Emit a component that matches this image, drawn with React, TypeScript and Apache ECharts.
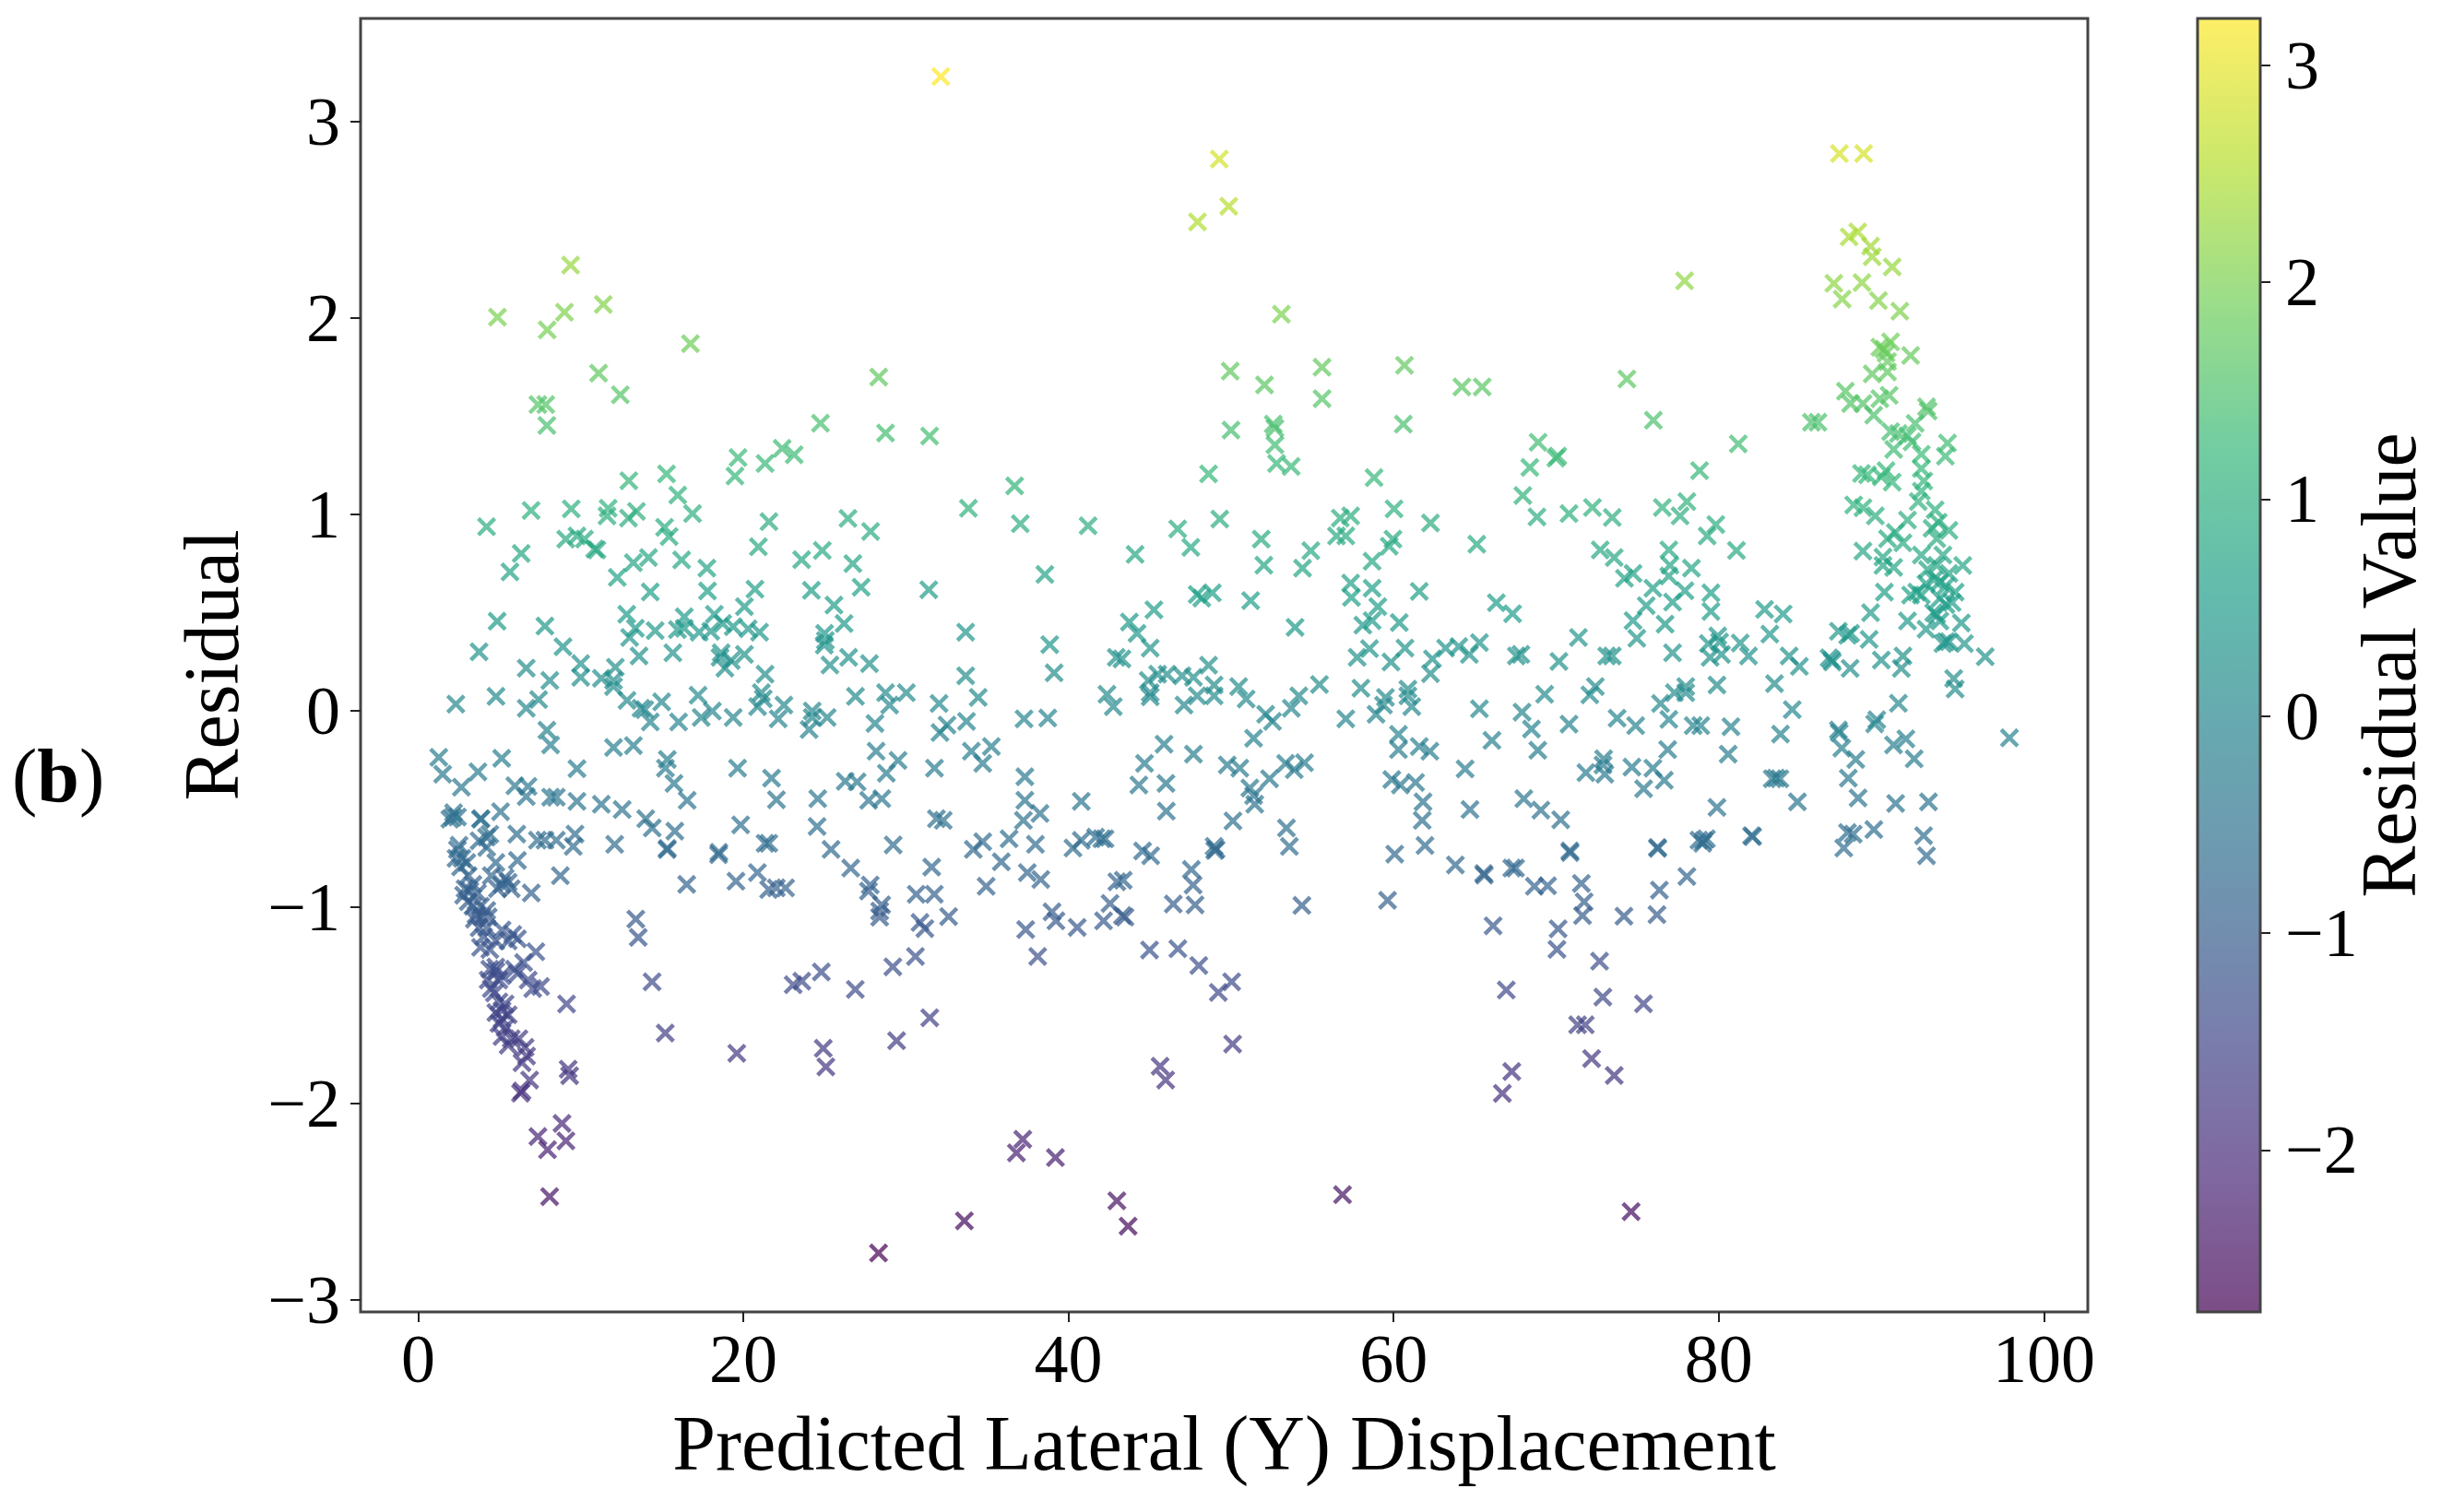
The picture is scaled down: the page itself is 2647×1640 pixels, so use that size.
import React, { useEffect, useRef } from "react";
import * as echarts from "echarts";

const xTicks = [0, 20, 40, 60, 80, 100];
const yTicks = [-3, -2, -1, 0, 1, 2, 3];
const colorTicks = [-2, -1, 0, 1, 2, 3];
const xTitle = "Predicted Lateral (Y) Displacement";
const yTitle = "Residual";
const colorTitle = "Residual Value";
const colorMin = -2.76;
const colorMax = 3.22;
const viridis = ["#440154", "#482878", "#3e4989", "#31688e", "#26828e", "#1f9e89", "#35b779", "#6ece58", "#b5de2b", "#fde725"];

const upperLeft: number[][] = [[4.88,2.005],[7.94,1.94],[9.0,2.03],[9.38,2.27],[11.39,2.07],[11.1,1.72],[12.44,1.61],[16.75,1.87],[7.37,1.56],[7.85,1.56],[28.33,1.7],[32.15,3.23],
[7.92,1.454],[24.75,1.465],[28.75,1.415],[31.46,1.4],[19.68,1.29],[19.49,1.196],[21.34,1.26],[22.39,1.337],[23.13,1.305],[12.96,1.172],[15.28,1.207],[15.97,1.099],[16.88,1.005],[6.95,1.021],[9.42,1.029],[11.69,1.032],[11.62,0.993],[12.94,0.982],[13.43,1.016],[4.21,0.938],[15.16,0.935],[15.44,0.888],[21.58,0.964],[26.44,0.98],[27.83,0.914],[9.08,0.875],[9.77,0.891],[10.23,0.875],[10.86,0.825],[11.0,0.82],[6.34,0.802],[5.65,0.708],[20.93,0.836],[24.86,0.817],[23.59,0.77],[14.17,0.781],[13.24,0.755],[16.21,0.769],[17.76,0.727],[12.25,0.68],[26.74,0.75],[14.28,0.606],[17.8,0.611],[20.72,0.62],[24.19,0.614],[27.25,0.63],[31.41,0.617],[20.07,0.531],[25.58,0.539]];

const midLeft: number[][] = [[4.86,0.457],[7.8,0.432],[12.83,0.492],[16.37,0.479],[18.22,0.492],[13.36,0.421],[14.58,0.409],[15.95,0.414],[16.37,0.421],[17.29,0.401],[18.0,0.406],[18.73,0.445],[19.38,0.429],[20.3,0.418],[21.0,0.401],[26.2,0.445],[25.0,0.395],[25.05,0.359],[13.01,0.374],[24.98,0.335],[8.91,0.327],[3.75,0.301],[13.59,0.28],[15.67,0.296],[18.64,0.296],[18.57,0.273],[20.07,0.288],[19.26,0.257],[18.87,0.218],[26.48,0.273],[25.33,0.234],[27.76,0.241],[10.0,0.241],[6.65,0.218],[12.13,0.223],[8.1,0.155],[10.0,0.171],[11.27,0.166],[12.02,0.155],[12.02,0.124],[21.34,0.187],[21.11,0.093],[21.23,0.062],[2.32,0.035],[4.79,0.074],[7.41,0.058],[6.65,0.014],[12.85,0.054],[13.71,0.014],[13.94,0.007],[14.98,0.046],[14.28,-0.056],[16.02,-0.056],[17.22,0.08],[17.41,-0.033],[18.1,-0.001],[19.38,-0.033],[20.88,0.022],[22.5,0.03],[22.15,-0.04],[24.24,0.0],[24.24,-0.033],[25.16,-0.033],[24.05,-0.095],[26.9,0.074],[28.75,0.093],[29.0,0.03],[30.03,0.093],[28.1,-0.064],[32.04,0.038],[32.1,-0.11],[7.92,-0.098],[8.15,-0.173],[12.02,-0.186],[13.24,-0.176],[1.27,-0.236],[1.51,-0.322],[5.14,-0.241],[3.68,-0.31],[2.66,-0.388],[9.77,-0.294],[15.33,-0.247],[15.21,-0.291],[15.74,-0.369],[16.55,-0.455],[19.65,-0.291],[21.74,-0.342],[22.04,-0.452],[28.17,-0.205],[29.52,-0.252],[28.8,-0.317],[31.76,-0.291],[26.27,-0.358],[27.0,-0.361],[24.58,-0.447],[27.71,-0.455],[28.52,-0.447],[5.95,-0.381],[6.76,-0.384],[6.65,-0.436],[8.15,-0.439],[8.5,-0.439],[9.77,-0.46],[11.27,-0.475],[12.55,-0.502],[14.0,-0.549],[14.4,-0.596],[15.79,-0.612],[2.18,-0.518],[3.87,-0.549],[5.07,-0.513],[2.13,-0.541],[6.07,-0.627],[4.21,-0.643],[7.34,-0.658],[7.8,-0.658],[8.5,-0.658],[9.65,-0.627],[9.54,-0.69],[12.09,-0.679],[19.84,-0.58],[24.54,-0.588],[31.88,-0.549],[21.34,-0.674],[21.57,-0.674],[25.4,-0.705],[29.22,-0.682],[15.33,-0.7],[18.5,-0.72]];

const denseCluster: number[][] = [[2.42,-0.54],[1.95,-0.551],[3.84,-0.551],[4.41,-0.628],[3.75,-0.661],[2.52,-0.684],[4.22,-0.695],[2.42,-0.706],[2.7,-0.75],[2.99,-0.772],[2.33,-0.75],[2.61,-0.794],[3.08,-0.839],[3.37,-0.883],[2.89,-0.905],[3.18,-0.916],[3.65,-0.927],[2.8,-0.938],[3.08,-0.971],[3.37,-0.994],[3.84,-0.994],[4.22,-1.016],[3.56,-1.038],[3.93,-1.049],[4.31,-1.049],[3.46,-1.06],[3.75,-1.104],[4.22,-1.104],[4.03,-1.149],[4.78,-1.171],[3.84,-1.204],[4.41,-1.215],[5.16,-1.115],[5.82,-1.138],[5.54,-1.171],[6.11,-1.16],[4.78,-0.772],[5.35,-0.85],[6.11,-0.761],[5.73,-0.905],[6.96,-0.927],[4.88,-0.905],[5.16,-0.883],[5.54,-0.872],[4.5,-0.839],[7.24,-1.226],[6.49,-1.281],[6.11,-1.337],[6.77,-1.37],[7.53,-1.403],[7.05,-1.414],[4.41,-1.315],[4.78,-1.326],[4.31,-1.37],[4.97,-1.37],[4.5,-1.414],[4.78,-1.304],[5.16,-1.348],[4.69,-1.436],[5.92,-1.315],[9.13,-1.492],[4.97,-1.481],[5.35,-1.492],[5.16,-1.525],[4.78,-1.536],[5.54,-1.547],[5.16,-1.569],[4.97,-1.591],[5.35,-1.614],[5.16,-1.658],[5.73,-1.669],[6.2,-1.669],[5.54,-1.702],[6.58,-1.713],[6.67,-1.757],[6.39,-1.791],[9.23,-1.824],[9.32,-1.857],[6.86,-1.879],[6.39,-1.935],[6.3,-1.946],[8.85,-2.1],[7.37,-2.167],[9.09,-2.189],[7.96,-2.234],[8.09,-2.473],[13.39,-1.06],[13.54,-1.153],[8.75,-0.839]];

const lowerLeft: number[][] = [[15.31,-0.706],[18.48,-0.732],[16.52,-0.883],[19.55,-0.867],[20.87,-0.823],[21.56,-0.909],[22.03,-0.901],[22.6,-0.901],[26.61,-0.8],[27.81,-0.886],[27.7,-0.917],[28.51,-0.987],[28.39,-1.019],[28.39,-1.05],[31.59,-0.795],[30.64,-0.933],[31.75,-0.933],[35.87,-0.768],[34.94,-0.893],[37.47,-0.823],[38.3,-0.858],[42.05,-0.651],[45.06,-0.737],[47.56,-0.807],[47.67,-0.886],[42.98,-0.87],[43.37,-0.862],[42.56,-0.98],[43.48,-1.05],[43.32,-1.042],[42.16,-1.069],[46.45,-0.983],[47.79,-0.987],[38.99,-1.023],[39.23,-1.069],[40.54,-1.102],[37.37,-1.113],[32.63,-1.047],[30.87,-1.077],[31.17,-1.108],[38.11,-1.25],[30.59,-1.25],[29.2,-1.303],[44.99,-1.217],[46.73,-1.211],[48.02,-1.296],[49.22,-1.433],[50.04,-1.379],[24.8,-1.329],[23.6,-1.376],[23.07,-1.394],[26.89,-1.418],[14.39,-1.379],[31.47,-1.562],[29.43,-1.679],[15.2,-1.64],[19.6,-1.743],[24.92,-1.718],[25.08,-1.812],[45.64,-1.809],[45.98,-1.879],[50.1,-1.696],[37.19,-2.181],[36.8,-2.25],[39.2,-2.274],[42.98,-2.494],[43.67,-2.623],[33.6,-2.596],[28.32,-2.76]];

const centerBand: number[][] = [[49.28,2.81],[47.94,2.49],[49.86,2.57],[53.1,2.02],[49.95,1.73],[52.06,1.66],[55.6,1.75],[55.6,1.59],[60.67,1.76],[64.2,1.65],[65.45,1.65],[60.6,1.46],[52.6,1.46],[52.7,1.44],[50.0,1.43],[52.7,1.355],[52.8,1.26],[53.7,1.245],
[36.69,1.146],[33.85,1.032],[37.04,0.953],[41.21,0.943],[48.62,1.207],[49.31,0.977],[58.8,1.188],[60.03,1.029],[62.27,0.957],[56.72,0.982],[57.36,0.993],[56.49,0.891],[57.06,0.891],[59.96,0.875],[59.73,0.839],[58.68,0.762],[65.12,0.849],[46.72,0.927],[47.53,0.833],[44.1,0.797],[51.86,0.875],[52.02,0.742],[54.91,0.816],[54.4,0.727],[38.55,0.695],[57.36,0.651],[58.68,0.625],[57.41,0.578],[61.58,0.609],[59.03,0.531],[47.92,0.593],[48.2,0.575],[48.85,0.601],[51.21,0.562],[66.32,0.551],[67.32,0.495],[45.26,0.515],[43.75,0.453],[44.22,0.395],[45.03,0.32],[53.94,0.426],[58.11,0.437],[58.68,0.46],[60.35,0.45],[33.68,0.401],[38.85,0.338],[39.12,0.194],[33.68,0.179],[34.45,0.069],[42.94,0.273],[43.29,0.265],[57.76,0.273],[58.52,0.317],[60.7,0.32],[59.84,0.249],[62.39,0.265],[63.2,0.32],[64.01,0.328],[65.28,0.348],[64.66,0.288],[62.27,0.19],[48.62,0.233],[45.49,0.187],[46.07,0.187],[46.99,0.179],[47.69,0.171],[44.91,0.155],[45.03,0.093],[45.03,0.072],[48.96,0.132],[48.96,0.077],[47.92,0.077],[47.11,0.03],[50.47,0.124],[50.93,0.061],[42.37,0.085],[42.76,0.022],[54.17,0.077],[53.71,0.014],[55.44,0.135],[57.99,0.116],[59.5,0.069],[60.88,0.111],[60.88,0.077],[61.12,0.022],[59.38,0.03],[58.92,-0.017],[52.13,-0.017],[52.55,-0.053],[57.06,-0.04],[65.28,0.011],[51.39,-0.139],[33.73,-0.053],[32.53,-0.072],[37.27,-0.04],[38.73,-0.036],[45.88,-0.169],[47.69,-0.22],[44.68,-0.267],[35.26,-0.181],[34.03,-0.205],[34.73,-0.267],[49.77,-0.275],[50.54,-0.291],[37.32,-0.335],[44.33,-0.377],[46.0,-0.369],[51.16,-0.392],[51.39,-0.431],[52.37,-0.345],[53.36,-0.267],[54.52,-0.264],[53.89,-0.299],[60.3,-0.119],[60.3,-0.197],[61.58,-0.181],[62.23,-0.205],[66.05,-0.15],[64.4,-0.295],[59.89,-0.349],[60.42,-0.377],[61.35,-0.364],[61.81,-0.463],[61.76,-0.557],[64.7,-0.502],[37.32,-0.455],[38.25,-0.522],[37.23,-0.557],[40.79,-0.46],[46.02,-0.51],[51.46,-0.475],[50.12,-0.56],[53.41,-0.596],[53.59,-0.69],[61.93,-0.685],[32.3,-0.557],[34.73,-0.666],[34.15,-0.705],[36.35,-0.651],[37.97,-0.679],[40.28,-0.698],[40.79,-0.659],[41.67,-0.643],[42.25,-0.651],[44.56,-0.713],[48.96,-0.69],[49.08,-0.705],[60.07,-0.729],[49.0,-0.71]];

const lowerRight: number[][] = [[63.8,-0.784],[65.54,-0.828],[65.58,-0.836],[67.27,-0.8],[67.5,-0.8],[68.66,-0.893],[69.47,-0.89],[71.55,-0.878],[71.72,-0.972],[71.62,-1.042],[78.04,-0.843],[76.35,-0.912],[76.2,-1.037],[74.17,-1.045],[54.36,-0.99],[59.63,-0.964],[66.12,-1.094],[70.12,-1.109],[70.05,-1.214],[72.67,-1.274],[66.93,-1.421],[72.87,-1.457],[75.37,-1.491],[71.32,-1.598],[71.79,-1.598],[72.18,-1.77],[73.57,-1.856],[67.27,-1.836],[66.69,-1.947],[56.86,-2.463],[74.61,-2.549]];

const midRight: number[][] = [[74.35,1.69],[75.98,1.48],[77.9,2.19],[81.2,1.36],[85.7,1.47],[86.1,1.47],
[68.89,1.368],[70.1,1.298],[69.98,1.287],[68.38,1.24],[67.95,1.097],[78.82,1.224],[68.82,0.988],[70.79,1.005],[72.23,1.036],[73.45,0.985],[76.53,1.036],[78.04,1.066],[77.62,0.993],[79.82,0.949],[79.29,0.891],[81.09,0.817],[72.71,0.82],[73.57,0.781],[76.93,0.82],[77.0,0.742],[78.32,0.727],[74.73,0.7],[74.2,0.675],[76.93,0.687],[75.95,0.625],[77.92,0.612],[75.54,0.536],[77.16,0.554],[79.52,0.601],[79.52,0.507],[74.73,0.46],[76.7,0.442],[74.96,0.37],[71.37,0.374],[82.82,0.517],[83.96,0.494],[83.14,0.391],[84.33,0.28],[84.96,0.227],[83.43,0.139],[84.52,0.007],[79.94,0.382],[80.05,0.351],[79.36,0.343],[81.32,0.346],[81.83,0.28],[79.47,0.273],[80.17,0.288],[77.16,0.296],[67.83,0.288],[67.55,0.28],[70.17,0.252],[73.11,0.28],[73.45,0.28],[72.41,0.124],[72.07,0.082],[69.29,0.085],[77.97,0.124],[77.97,0.093],[77.27,0.093],[76.42,0.038],[79.89,0.132],[86.99,0.249],[86.79,0.27],[67.9,-0.006],[68.48,-0.092],[70.79,-0.067],[73.75,-0.037],[74.89,-0.075],[76.93,-0.043],[78.43,-0.075],[78.89,-0.075],[80.75,-0.08],[68.87,-0.2],[76.86,-0.197],[80.58,-0.22],[83.8,-0.118],[72.92,-0.244],[72.88,-0.275],[71.83,-0.314],[72.99,-0.322],[74.66,-0.286],[75.95,-0.291],[76.65,-0.353],[75.38,-0.396],[83.52,-0.342],[83.29,-0.345],[83.76,-0.345],[84.84,-0.463],[68.01,-0.447],[69.06,-0.505],[70.28,-0.554],[79.89,-0.491],[78.78,-0.658],[79.24,-0.651],[79.01,-0.674],[82.02,-0.635],[76.23,-0.695],[70.84,-0.713],[70.86,-0.721],[76.25,-0.7],[79.08,-0.66],[82.09,-0.64]];

const rightSpike: number[][] = [[87.42,2.838],[88.91,2.838],[88.02,2.414],[88.55,2.439],[89.34,2.366],[89.44,2.313],[90.67,2.261],[87.08,2.177],[88.81,2.181],[87.59,2.097],[89.82,2.089],[91.14,2.035],[90.57,1.879],[89.91,1.852],[90.16,1.842],[90.29,1.821],[90.38,1.779],[91.8,1.81],[89.44,1.716],[90.38,1.726],[87.79,1.628],[90.48,1.607],[89.91,1.59],[88.11,1.565],[88.87,1.565],[89.53,1.506],[92.78,1.548],[92.88,1.527],[92.08,1.464],[90.57,1.422],[91.05,1.412],[91.61,1.401],[90.76,1.332],[91.89,1.37],[92.46,1.307],[94.07,1.364],[93.94,1.297],[92.46,1.234],[88.78,1.209],[89.15,1.202],[90.29,1.223],[90.0,1.192],[90.67,1.165],[92.61,1.171],[92.46,1.119],[88.3,1.049],[88.87,1.035],[89.63,0.993],[92.27,1.066],[93.31,1.024],[91.61,0.972],[93.5,0.961],[94.16,0.919],[93.12,0.93],[90.86,0.909],[90.38,0.877],[91.33,0.856],[93.41,0.877],[88.87,0.814],[90.1,0.783],[90.76,0.731],[90.1,0.741],[92.46,0.794],[93.79,0.794],[95.01,0.741],[93.41,0.741],[92.84,0.72],[94.16,0.7],[93.22,0.668],[93.6,0.657],[93.97,0.636],[94.54,0.605],[92.75,0.647],[90.19,0.605],[91.8,0.59],[92.18,0.605],[92.46,0.59],[93.6,0.573],[94.35,0.552],[93.97,0.542],[93.22,0.5],[93.41,0.49],[89.34,0.5],[94.92,0.448],[91.61,0.458],[92.75,0.416],[93.6,0.458],[87.36,0.406],[87.93,0.385],[88.11,0.395],[89.25,0.364],[93.97,0.353],[93.79,0.343],[94.16,0.353],[95.11,0.343],[96.39,0.276],[86.94,0.259],[88.08,0.217],[90.0,0.259],[91.33,0.28],[91.23,0.217],[94.45,0.165],[94.54,0.112],[91.05,0.039],[89.72,-0.045],[89.59,-0.066],[87.36,-0.097],[87.41,-0.111],[87.57,-0.189],[88.43,-0.247],[91.51,-0.142],[90.75,-0.173],[92.02,-0.244],[97.88,-0.137],[87.97,-0.342],[88.57,-0.443],[90.88,-0.471],[92.9,-0.463],[87.92,-0.619],[88.27,-0.627],[89.54,-0.604],[92.6,-0.635],[87.69,-0.698],[92.78,-0.737]];

const allPoints = [...upperLeft, ...midLeft, ...denseCluster, ...lowerLeft, ...centerBand, ...lowerRight, ...midRight, ...rightSpike];

const crossMark = "path://M3,0 L10,7 L17,0 L20,3 L13,10 L20,17 L17,20 L10,13 L3,20 L0,17 L7,10 L0,3 Z";
const serif = "'Liberation Serif', serif";
const minusLabel = (v: number) => String(v).replace("-", "\u2212");

function withAlpha(hex: string, a: number) {
  const n = parseInt(hex.slice(1), 16);
  return `rgba(${(n >> 16) & 255},${(n >> 8) & 255},${n & 255},${a})`;
}

export default function App() {
  const ref = useRef<HTMLDivElement>(null);
  useEffect(() => {
    const chart = echarts.init(ref.current!, null, { renderer: "svg" });
    const stops = viridis.map((c, i) => ({ offset: i / (viridis.length - 1), color: withAlpha(c, 0.7) }));
    const tickStyle = { show: true, length: 11, inside: false, lineStyle: { color: "#222", width: 2 } };
    const labelStyle = { show: true, color: "#000", fontFamily: serif, fontSize: 74, formatter: minusLabel };
    const hiddenLine = { show: false, onZero: false };
    chart.setOption({
      animation: false,
      backgroundColor: "#fff",
      grid: [
        { left: 391, top: 20, width: 1873, height: 1403, show: true, borderColor: "#444", borderWidth: 3, backgroundColor: "transparent" },
        { left: 2383, top: 20, width: 68, height: 1403, show: false },
      ],
      xAxis: [
        {
          type: "value", gridIndex: 0, min: -3.54, max: 102.7, scale: true,
          axisLine: hiddenLine, splitLine: { show: false },
          axisTick: { ...tickStyle, customValues: xTicks },
          axisLabel: { ...labelStyle, margin: 14, customValues: xTicks },
          name: xTitle, nameLocation: "middle", nameGap: 100,
          nameTextStyle: { color: "#000", fontFamily: serif, fontSize: 84 },
        },
        { type: "value", gridIndex: 1, min: 0, max: 1, show: false },
      ],
      yAxis: [
        {
          type: "value", gridIndex: 0, min: -3.06, max: 3.526, scale: true,
          axisLine: hiddenLine, splitLine: { show: false },
          axisTick: { ...tickStyle, customValues: yTicks },
          axisLabel: { ...labelStyle, margin: 22, customValues: yTicks },
          name: yTitle, nameLocation: "middle", nameGap: 120, nameRotate: 90,
          nameTextStyle: { color: "#000", fontFamily: serif, fontSize: 84 },
        },
        {
          type: "value", gridIndex: 1, position: "right", min: -2.746, max: 3.215, scale: true,
          axisLine: hiddenLine, splitLine: { show: false },
          axisTick: { ...tickStyle, customValues: colorTicks },
          axisLabel: { ...labelStyle, margin: 27, customValues: colorTicks },
          name: colorTitle, nameLocation: "middle", nameGap: 97, nameRotate: 90, nameMoveOverlap: false,
          nameTextStyle: { color: "#000", fontFamily: serif, fontSize: 84 },
        },
      ],
      visualMap: {
        show: false, type: "continuous", seriesIndex: 0, dimension: 1,
        min: colorMin, max: colorMax, inRange: { color: viridis },
      },
      series: [
        {
          type: "scatter", xAxisIndex: 0, yAxisIndex: 0, data: allPoints,
          symbol: crossMark, symbolSize: 21, itemStyle: { opacity: 0.7 },
        },
        {
          type: "custom", xAxisIndex: 1, yAxisIndex: 1, clip: false,
          data: [[0, 1, -2.746, 3.215]],
          encode: { x: [0, 1], y: [2, 3] },
          renderItem: (_p: any, api: any) => {
            const a = api.coord([api.value(0), api.value(3)]);
            const b = api.coord([api.value(1), api.value(2)]);
            return {
              type: "rect",
              shape: { x: a[0], y: a[1], width: b[0] - a[0], height: b[1] - a[1] },
              style: {
                fill: new echarts.graphic.LinearGradient(0, 1, 0, 0, stops),
                stroke: "#444", lineWidth: 3,
              },
            };
          },
        },
      ],
      graphic: [
        {
          type: "text", left: 13, top: 800,
          style: {
            text: "({b|b})", fontFamily: serif, fontSize: 82, fill: "#000",
            rich: { b: { fontFamily: serif, fontSize: 82, fontWeight: "bold", fill: "#000" } },
          },
        },
      ],
    });
    return () => chart.dispose();
  }, []);
  return <div ref={ref} style={{ position: "fixed", left: 0, top: 0, width: 2647, height: 1640 }} />;
}
